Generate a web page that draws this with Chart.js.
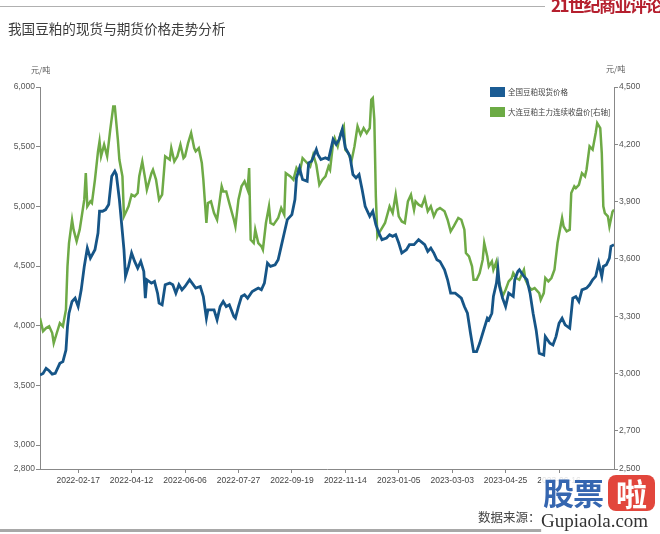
<!DOCTYPE html>
<html><head><meta charset="utf-8">
<script src="https://cdn.jsdelivr.net/npm/chart.js@4/dist/chart.umd.min.js"></script>
<style>
html,body{margin:0;padding:0;background:#fff;}
#wrap{position:relative;width:660px;height:534px;overflow:hidden;font-family:"Noto Sans CJK SC","Noto Sans",sans-serif;}
#c{position:absolute;left:0;top:0;}
.abs{position:absolute;white-space:nowrap;line-height:1;}
.sw{position:absolute;width:15px;height:10px;}
</style></head><body>
<div id="wrap">
<canvas id="c" width="660" height="534"></canvas>
<div class="abs" style="left:0;top:6px;width:545px;height:1px;background:#b0b0b0"></div>
<div class="abs" style="left:551px;top:-4px;font-size:17px;font-weight:bold;color:#b51f2e;letter-spacing:-1.5px">21世纪商业评论</div>
<div class="abs" style="left:8px;top:22px;font-size:13.6px;color:#3c3c3c">我国豆粕的现货与期货价格走势分析</div>
<div class="abs" style="left:31px;top:66px;font-size:8px;color:#555">元/吨</div>
<div class="abs" style="left:606px;top:65px;font-size:8px;color:#555">元/吨</div>
<div class="sw" style="left:490px;top:87px;background:#1b5c94"></div>
<div class="abs" style="left:508px;top:88px;font-size:7.5px;color:#444">全国豆粕现货价格</div>
<div class="sw" style="left:490px;top:107px;background:#6cab45"></div>
<div class="abs" style="left:508px;top:108px;font-size:7.5px;color:#444">大连豆粕主力连续收盘价[右轴]</div>
<div class="abs" style="left:478px;top:511px;font-size:12.5px;color:#444">数据来源：</div>
<div class="abs" style="left:0;top:529px;width:542px;height:3px;background:#a8a8a8"></div>
<div class="abs" style="left:541px;top:474px;width:119px;height:60px;background:rgba(255,255,255,0.85)"></div>
<div class="abs" style="left:543px;top:476px;font-size:31px;font-weight:bold;color:#3566b0;letter-spacing:-1px">股票</div>
<div class="abs" style="left:608px;top:475px;width:47px;height:36px;border-radius:8px;background:#e2463c;color:#fff;font-size:31px;font-weight:bold;text-align:center;line-height:36px">啦</div>
<div class="abs" style="left:541px;top:511px;font-size:19px;font-family:'Liberation Serif','DejaVu Serif',serif;color:#333">Gupiaola.com</div>
</div>
<script>
// x axis: trading-day index from early Jan 2022 to late Jul 2023
const dayTicks = [25, 60, 95, 130, 165, 200, 235, 270, 305, 340];
const dayLabels = ['2022-02-17','2022-04-12','2022-06-06','2022-07-27','2022-09-19','2022-11-14','2023-01-05','2023-03-03','2023-04-25','2023-06-16'];
const leftTicks = [2800, 3000, 3500, 4000, 4500, 5000, 5500, 6000];
const rightTicks = [2500, 2700, 3000, 3300, 3600, 3900, 4200, 4500];

// 全国豆粕现货价格 (left axis, 元/吨)
const spotDays = [0,2,4,6,8,10,13,15,17,18,19,21,23,25,27,29,31,33,36,38,39,41,43,45,47,49,50,52,54,55,56,58,60,62,64,66,68,69,70,73,75,77,78,80,82,85,87,89,91,93,95,98,102,105,107,109,110,114,116,118,120,122,124,127,128,130,132,134,136,139,141,143,145,147,149,151,154,156,158,160,162,165,167,168,170,172,175,176,178,181,182,184,187,189,192,194,196,198,200,203,205,207,209,211,213,216,218,220,222,224,227,229,231,233,235,237,240,242,245,248,252,254,256,258,260,262,265,267,269,272,276,278,280,282,284,286,288,290,293,294,296,297,299,300,301,303,305,307,310,311,313,314,317,319,321,323,325,327,330,331,334,336,338,340,342,344,347,349,351,353,355,358,360,362,364,366,368,369,371,373,374,376];
const spotPrice = [3587,3601,3643,3623,3595,3601,3685,3699,3797,3993,4105,4203,4231,4161,4301,4497,4651,4567,4637,4777,4959,4959,4973,5015,5253,5295,5267,5057,4777,4637,4413,4497,4609,4539,4483,4539,4455,4231,4385,4357,4371,4273,4189,4175,4343,4357,4343,4273,4343,4301,4329,4385,4315,4329,4245,4063,4133,4133,4049,4161,4203,4161,4175,4077,4063,4161,4245,4259,4231,4287,4301,4315,4301,4357,4525,4497,4511,4553,4665,4777,4889,4931,5057,5239,5323,5225,5211,5365,5379,5477,5435,5393,5407,5393,5561,5519,5561,5645,5491,5421,5267,5239,5267,5141,5001,4917,4959,4847,4777,4721,4735,4763,4749,4763,4693,4609,4637,4679,4679,4721,4679,4623,4651,4609,4553,4539,4469,4385,4273,4273,4231,4161,4105,3937,3783,3783,3853,3937,4063,4049,4105,4245,4357,4469,4329,4231,4161,4273,4245,4385,4455,4469,4413,4385,4273,4105,3965,3769,3755,3909,3853,3839,3909,4021,4063,4007,3979,4231,4245,4203,4301,4315,4343,4385,4413,4525,4413,4497,4511,4567,4665,4679];

// 大连豆粕主力连续收盘价 (right axis, 元/吨)
const futDays = [0,2,4,6,8,9,11,13,15,17,18,19,21,22,24,26,27,29,30,31,33,34,36,38,39,40,42,44,45,46,48,49,51,52,54,55,57,58,60,62,64,65,67,69,70,73,74,76,78,80,82,85,86,88,90,92,94,95,97,99,101,102,104,106,107,109,110,112,114,116,119,120,122,124,127,128,130,132,134,136,137,138,140,141,143,145,146,148,150,151,153,156,158,160,161,164,166,168,170,172,175,177,179,181,183,185,187,189,190,192,193,195,197,199,200,202,204,206,208,210,212,214,216,217,218,219,220,221,222,224,226,229,231,233,235,237,239,241,243,245,246,248,250,252,254,256,258,260,262,265,267,269,271,274,276,278,279,281,283,284,286,288,290,291,293,294,296,297,299,300,302,303,305,307,309,310,312,314,317,318,320,322,324,327,328,330,331,333,335,337,339,342,343,345,347,348,350,351,353,355,357,358,360,362,364,365,367,368,369,370,372,373,375,376];
const futPrice = [3290,3221,3238,3247,3212,3159,3212,3264,3247,3334,3561,3683,3805,3753,3692,3753,3805,3910,4049,3875,3901,3892,4015,4163,4215,4137,4198,4137,4206,4276,4398,4398,4224,4119,4032,3823,3857,3875,3936,3927,3945,4032,4110,4015,3962,4049,4067,4015,3910,3936,4137,4119,4180,4110,4137,4198,4128,4137,4206,4259,4180,4163,4180,4102,4015,3788,3892,3901,3840,3805,3980,3953,3953,3892,3805,3770,3910,3980,4006,3962,4076,3700,3683,3753,3683,3666,3648,3788,3875,3788,3779,3814,3866,3831,4049,4032,4015,4076,4049,4128,4102,4084,4145,4093,3988,4015,4032,4084,4067,4206,4233,4189,4259,4294,4172,4154,4110,4189,4294,4250,4285,4259,4285,4433,4442,4329,3927,3718,3735,3761,3788,3875,3840,3936,3823,3796,3788,3901,3936,3857,3901,3884,3875,3918,3849,3875,3823,3857,3866,3849,3805,3744,3770,3814,3805,3753,3631,3613,3561,3491,3491,3526,3596,3683,3613,3561,3587,3543,3587,3500,3439,3404,3439,3482,3500,3526,3500,3491,3543,3491,3456,3439,3447,3421,3386,3421,3500,3482,3500,3543,3683,3814,3770,3744,3753,3945,3980,3971,3988,4049,4032,4067,4189,4172,4259,4311,4285,4154,3875,3840,3823,3770,3847,3858];

const tickFont = {family:"'Liberation Sans','Noto Sans',sans-serif", size:8.5};
const fmt = v => Number(v).toLocaleString('en-US');

new Chart(document.getElementById('c'), {
  type: 'line',
  data: {
    datasets: [
      {label:'全国豆粕现货价格', yAxisID:'y',
       data: spotDays.map((d,i)=>({x:d, y:spotPrice[i]})),
       borderColor:'#165587', borderWidth:2.8, pointRadius:0, tension:0, fill:false},
      {label:'大连豆粕主力连续收盘价[右轴]', yAxisID:'y1',
       data: futDays.map((d,i)=>({x:d, y:futPrice[i]})),
       borderColor:'#6eaa46', borderWidth:2.5, pointRadius:0, tension:0, fill:false}
    ]
  },
  options: {
    responsive:false, animation:false, devicePixelRatio:1,
    layout:{padding:{top:87, left:0, right:0, bottom:0}},
    plugins:{legend:{display:false}, tooltip:{enabled:false}},
    scales:{
      x:{type:'linear', min:0, max:376,
         grid:{drawOnChartArea:false, drawTicks:true, tickLength:4, color:'#888'},
         border:{color:'#888'},
         ticks:{autoSkip:false, maxRotation:0, padding:3, color:'#444', font:tickFont,
                callback:v=>{const i=dayTicks.indexOf(v); return i<0?'':dayLabels[i];}},
         afterBuildTicks:s=>{s.ticks=dayTicks.map(v=>({value:v}));},
         afterFit:s=>{s.height=65;}},
      y:{position:'left', min:2800, max:6000,
         grid:{drawOnChartArea:false, drawTicks:true, tickLength:4, color:'#888'},
         border:{color:'#888'},
         ticks:{padding:1, color:'#555', font:tickFont, callback:fmt},
         afterBuildTicks:s=>{s.ticks=leftTicks.map(v=>({value:v}));},
         afterFit:s=>{s.width=40;}},
      y1:{position:'right', min:2500, max:4500,
         grid:{drawOnChartArea:false, drawTicks:true, tickLength:4, color:'#888'},
         border:{color:'#888'},
         ticks:{padding:1, color:'#555', font:tickFont, callback:fmt},
         afterBuildTicks:s=>{s.ticks=rightTicks.map(v=>({value:v}));},
         afterFit:s=>{s.width=46;}}
    }
  }
});
</script>
</body></html>
